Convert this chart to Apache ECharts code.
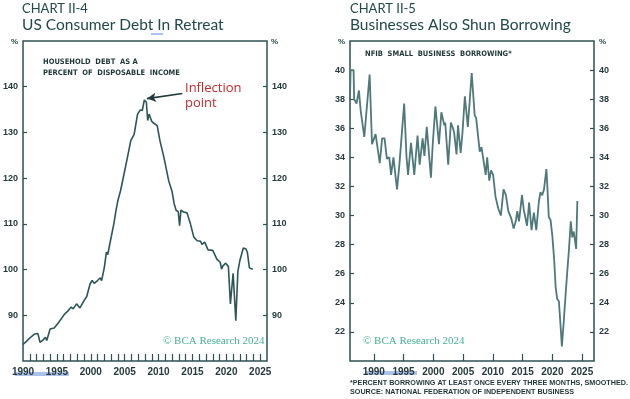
<!doctype html>
<html>
<head>
<meta charset="UTF-8">
<title>Charts II-4 and II-5</title>
<style>
  html, body { margin: 0; padding: 0; background: #fff; }
  #main { width: 630px; height: 399px; }
</style>
</head>
<body>
<div id="main"></div>
<script src="https://cdn.jsdelivr.net/npm/echarts@6/dist/echarts.min.js"></script>
<script>
// Chart II-4: household debt as % of disposable income
var debtYears = [1990.0, 1990.5, 1991.2, 1991.7, 1992.2, 1992.5, 1992.9, 1993.3, 1993.5, 1994.0,
  1994.6, 1995.2, 1995.4, 1996.1, 1996.6, 1997.1, 1997.4, 1997.9, 1998.4, 1999.0,
  1999.4, 1999.9, 2000.2, 2000.5, 2001.0, 2001.4, 2001.6, 2002.0, 2002.3, 2002.5,
  2002.9, 2003.4, 2003.7, 2004.0, 2004.4, 2004.9, 2005.4, 2005.9, 2006.4, 2006.9,
  2007.3, 2007.6, 2007.9, 2008.2, 2008.4, 2008.6, 2009.0, 2009.3, 2009.8, 2010.2,
  2010.8, 2011.5, 2012.0, 2012.3, 2012.6, 2012.9, 2013.1, 2013.3, 2013.7, 2013.9,
  2014.2, 2014.7, 2015.2, 2015.7, 2016.2, 2016.4, 2016.8, 2017.3, 2018.0, 2018.6,
  2019.1, 2019.3, 2019.5, 2019.9, 2020.3, 2020.6, 2021.0, 2021.4, 2021.7, 2022.0,
  2022.5, 2022.9, 2023.1, 2023.4, 2023.8, 2023.9];
var debtValues = [83.6, 84.3, 85.3, 85.9, 86.0, 84.1, 84.5, 85.2, 84.5, 87.0,
  87.2, 88.3, 88.0, 90.2, 90.9, 91.8, 91.4, 92.5, 91.6, 93.2,
  94.1, 96.9, 97.6, 97.0, 97.6, 98.2, 97.6, 100.5, 103.8, 103.3,
  106.3, 110.0, 112.8, 115.1, 117.3, 120.9, 124.5, 128.2, 129.6, 134.0,
  134.9, 134.8, 137.1, 136.6, 132.6, 134.0, 132.4, 132.0, 131.5, 128.2,
  124.5, 119.4, 117.0, 114.4, 112.9, 112.7, 109.6, 113.0, 112.6, 112.8,
  112.4, 110.0, 107.1, 106.3, 106.2, 105.5, 106.0, 104.3, 104.2, 102.3,
  101.6, 100.1, 100.8, 101.4, 100.7, 92.5, 99.2, 88.8, 99.6, 102.0,
  104.7, 104.5, 103.8, 100.4, 100.1, 100.2];

// Chart II-5: NFIB small business borrowing
var nfibYears = [1986.0, 1986.1, 1986.6, 1986.7, 1987.1, 1987.5, 1987.8, 1988.4, 1989.3, 1989.7,
  1990.3, 1991.0, 1991.4, 1991.8, 1992.2, 1992.6, 1992.9, 1993.3, 1993.9, 1994.3,
  1994.7, 1995.1, 1995.5, 1995.75, 1996.25, 1996.8, 1997.35, 1997.7, 1998.2, 1998.5,
  1998.9, 1999.6, 1999.9, 2000.35, 2000.95, 2001.35, 2001.85, 2002.0, 2002.5, 2002.95,
  2003.3, 2003.5, 2003.9, 2004.15, 2004.6, 2004.9, 2005.3, 2005.8, 2006.45, 2006.95,
  2007.2, 2007.8, 2008.1, 2008.8, 2009.05, 2009.4, 2009.7, 2010.05, 2010.45, 2010.9,
  2011.35, 2011.8, 2012.2, 2012.6, 2013.1, 2013.5, 2013.9, 2014.1, 2014.4, 2014.9,
  2015.2, 2015.5, 2015.75, 2016.1, 2016.5, 2016.9, 2017.3, 2017.75, 2018.0, 2018.3,
  2018.6, 2019.0, 2019.15, 2019.4, 2019.7, 2020.0, 2020.3, 2020.55, 2020.8, 2021.1,
  2021.4, 2021.6, 2021.9, 2022.2, 2022.5, 2022.8, 2023.1, 2023.35, 2023.6, 2023.85,
  2024.0, 2024.2];
var nfibValues = [38.0, 40.0, 40.0, 38.0, 37.7, 38.6, 37.2, 35.4, 39.7, 34.9,
  35.6, 33.6, 35.3, 35.3, 33.9, 34.0, 32.8, 34.0, 31.8, 33.5,
  35.6, 37.7, 34.0, 32.8, 35.0, 32.8, 35.5, 33.5, 35.3, 34.1,
  36.1, 32.6, 34.9, 37.5, 34.9, 37.1, 36.2, 36.4, 33.5, 36.4,
  36.0, 35.7, 34.2, 36.2, 34.3, 35.7, 38.2, 36.1, 39.8, 36.9,
  36.7, 34.4, 34.7, 32.8, 34.0, 32.4, 33.1, 32.8, 31.3, 30.5,
  30.0, 31.8, 31.4, 30.3, 29.8, 29.1, 29.7, 30.3, 29.6, 31.4,
  30.4, 30.4, 29.3, 30.9, 29.0, 30.2, 29.0, 31.0, 31.6, 31.4,
  31.8, 33.2, 32.1, 29.9, 29.7, 28.6, 27.0, 25.1, 24.3, 24.1,
  22.3, 21.0, 22.6, 24.4, 26.1, 27.7, 29.6, 28.5, 28.9, 29.0,
  27.7, 31.0];

var debtXTicks = [1990, 1995, 2000, 2005, 2010, 2015, 2020, 2025];
var debtXMinor = [];
for (var y = 1991; y <= 2025; y++) debtXMinor.push(y);
var nfibXTicks = [1990, 1995, 2000, 2005, 2010, 2015, 2020, 2025];
var debtYTicks = [90, 100, 110, 120, 130, 140];
var nfibYTicks = [22, 24, 26, 28, 30, 32, 34, 36, 38, 40];

function pairs(xs, ys) {
  return xs.map(function (x, i) { return [x, ys[i]]; });
}

var ink = '#24494a';
var frame = '#2f5052';
var labelFont = { color: '#263a3b', fontSize: 9, fontWeight: 'bold', fontFamily: 'Liberation Sans' };
var plain = function (v) { return String(v); };

function yAxisDef(grid, pos, min, max, step, ticks) {
  return {
    type: 'value', gridIndex: grid, position: pos, min: min, max: max, interval: step,
    axisLine: { show: false },
    axisTick: { show: true, inside: true, length: 4, lineStyle: { color: frame, width: 1.2 },
      customValues: ticks },
    axisLabel: Object.assign({ margin: 5, customValues: ticks, formatter: plain }, labelFont),
    splitLine: { show: false }
  };
}

function xAxisDef(grid, min, max, ticks, labels) {
  return {
    type: 'value', gridIndex: grid, min: min, max: max,
    axisLine: { show: false },
    axisTick: { show: true, inside: true, length: 7, lineStyle: { color: frame, width: 1.2 },
      customValues: ticks },
    axisLabel: Object.assign({ margin: 6, customValues: labels, formatter: plain }, labelFont, { fontSize: 10 }),
    splitLine: { show: false }
  };
}

function txt(text, left, top, style) {
  return { text: text, left: left, top: top, padding: 0, textStyle: style };
}

var titleFont = 'Lato';
var small = { fontSize: 8, fontWeight: 'bold', color: ink, fontFamily: 'Liberation Sans' };
var note = { fontSize: 7.5, fontWeight: 'bold', color: '#1f3435', fontFamily: 'DejaVu Sans Condensed', lineHeight: 11 };
var copy = { fontSize: 11, fontWeight: 'normal', color: '#45b294', fontFamily: 'Liberation Serif' };
var head = { fontSize: 13, fontWeight: 'normal', color: ink, fontFamily: titleFont };
var big = { fontSize: 15.5, fontWeight: 'normal', color: ink, fontFamily: titleFont };

var chart = echarts.init(document.getElementById('main'));
chart.setOption({
  backgroundColor: '#ffffff',
  animation: false,
  title: [
    txt('CHART II-4', 22, 2, head),
    txt('US Consumer Debt In Retreat', 22, 17, big),
    txt('CHART II-5', 350, 2, head),
    txt('Businesses Also Shun Borrowing', 350, 17, big),
    txt('%', 11, 38, small),
    txt('%', 271, 38, small),
    txt('%', 338, 38, small),
    txt('%', 599, 38, small),
    txt('HOUSEHOLD  DEBT  AS A\nPERCENT  OF  DISPOSABLE  INCOME', 43, 57, note),
    txt('Inflection\npoint', 185, 81, { fontSize: 13, fontWeight: 'normal', color: '#c5282c', fontFamily: 'Open Sans', lineHeight: 15 }),
    txt('NFIB  SMALL  BUSINESS  BORROWING*', 365, 49, note),
    txt('© BCA Research 2024', 163, 336, copy),
    txt('© BCA Research 2024', 363, 336, copy),
    txt('*PERCENT BORROWING AT LEAST ONCE EVERY THREE MONTHS, SMOOTHED.\nSOURCE: NATIONAL FEDERATION OF INDEPENDENT BUSINESS', 350, 379,
      { fontSize: 7.2, fontWeight: 'bold', color: '#1f3435', fontFamily: 'Liberation Sans', lineHeight: 9 })
  ],
  grid: [
    { left: 22, top: 41, width: 245, height: 320, show: true, borderColor: frame, borderWidth: 1.5, backgroundColor: 'transparent' },
    { left: 350, top: 41, width: 244, height: 320, show: true, borderColor: frame, borderWidth: 1.5, backgroundColor: 'transparent' }
  ],
  xAxis: [
    xAxisDef(0, 1990, 2026, debtXMinor, debtXTicks),
    xAxisDef(1, 1986, 2027, nfibXTicks, nfibXTicks)
  ],
  yAxis: [
    yAxisDef(0, 'left', 80, 150, 10, debtYTicks),
    yAxisDef(0, 'right', 80, 150, 10, debtYTicks),
    yAxisDef(1, 'left', 20, 42, 2, nfibYTicks),
    yAxisDef(1, 'right', 20, 42, 2, nfibYTicks)
  ],
  series: [
    {
      type: 'line', xAxisIndex: 0, yAxisIndex: 0, showSymbol: false, silent: true,
      data: pairs(debtYears, debtValues),
      lineStyle: { color: '#2e5557', width: 1.6 },
      markLine: {
        silent: true, symbol: ['none', 'arrow'], symbolSize: [7, 9],
        lineStyle: { color: '#23393b', width: 1.6, type: 'solid' },
        label: { show: false },
        data: [[{ coord: [2013.5, 138.5] }, { coord: [2008.3, 137.4] }]]
      }
    },
    {
      type: 'line', xAxisIndex: 1, yAxisIndex: 2, showSymbol: false, silent: true,
      data: pairs(nfibYears, nfibValues),
      lineStyle: { color: '#4f7879', width: 1.8 }
    }
  ],
  graphic: [
    { type: 'line', shape: { x1: 151, y1: 34, x2: 163, y2: 34 }, style: { stroke: '#5b86d8', lineWidth: 1 } },
    { type: 'line', shape: { x1: 15, y1: 373, x2: 69, y2: 373 }, style: { stroke: '#5b86d8', lineWidth: 1 } },
    { type: 'line', shape: { x1: 15, y1: 375, x2: 69, y2: 375 }, style: { stroke: '#5b86d8', lineWidth: 1 } },
    { type: 'line', shape: { x1: 366, y1: 372, x2: 417, y2: 372 }, style: { stroke: '#5b86d8', lineWidth: 1 } },
    { type: 'line', shape: { x1: 366, y1: 374, x2: 417, y2: 374 }, style: { stroke: '#5b86d8', lineWidth: 1 } }
  ]
});
</script>
</body>
</html>
